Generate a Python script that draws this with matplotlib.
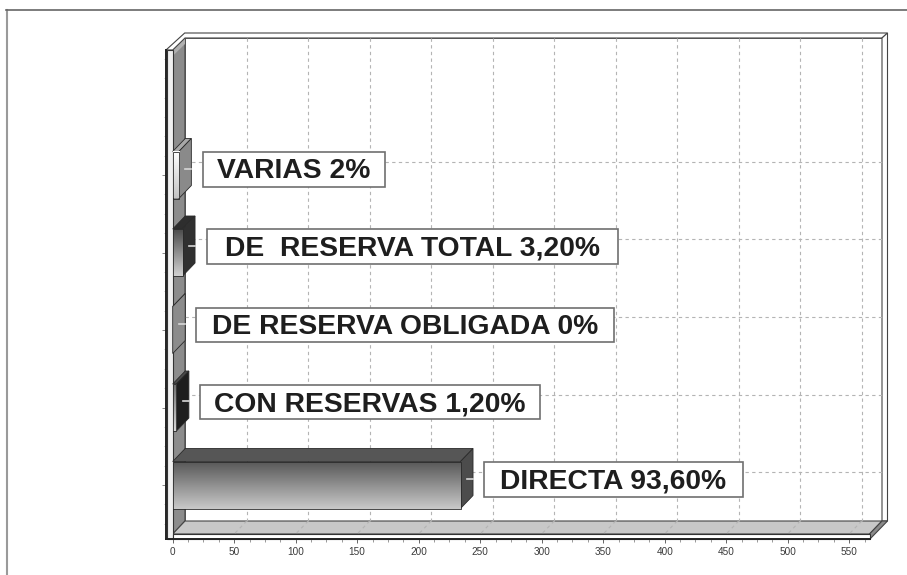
import numpy as np
import matplotlib
matplotlib.use("Agg")
import matplotlib.pyplot as plt
from matplotlib.colors import LinearSegmentedColormap
from matplotlib.patches import Polygon, Rectangle

plt.rcParams['font.family'] = ['Liberation Sans', 'DejaVu Sans']

# values, bottom to top
categories = ["DIRECTA 93,60%", "CON RESERVAS 1,20%", "DE RESERVA OBLIGADA 0%",
              "DE  RESERVA TOTAL 3,20%", "VARIAS 2%"]
values = [234, 3, 0, 8, 5]
xtick_values = list(range(0, 551, 50))

# bar colours: gradient top, gradient bottom, top face, side face
grad_top = ["#5a5a5a", "#6e6e6e", "#e8e8e8", "#4c4c4c", "#ffffff"]
grad_bottom = ["#c8c8c8", "#d8d8d8", "#e8e8e8", "#d0d0d0", "#c4c4c4"]
top_faces = ["#565656", "#4a4a4a", "#8c8c8c", "#2e2e2e", "#a8a8a8"]
side_faces = ["#4c4c4c", "#1e1e1e", "#8c8c8c", "#303030", "#8a8a8a"]

# label boxes in picture pixels: left, right, top, bottom
label_boxes = [(484, 743, 462, 496.5), (200, 540, 385, 419), (196, 614, 308, 342),
               (207, 618, 229, 264), (203, 385, 152, 187)]

W, H = 907, 575
X0, PX_X = 172.7, 1.23      # pixel of x=0, pixels per unit
Y0, PX_Y = 485, 77.5        # pixel of first category, pixels per category
DX, DY = 12.5 / PX_X, 13 / PX_Y
HALF = 23.5 / PX_Y


def ux(p):
    return (p - X0) / PX_X


def uy(p):
    return (Y0 - p) / PX_Y


fig = plt.figure(figsize=(W / 100, H / 100), dpi=100, facecolor="white")

# chart frame drawn in pixels
bg = fig.add_axes([0, 0, 1, 1])
bg.set_xlim(0, W)
bg.set_ylim(H, 0)
bg.axis("off")
bg.plot([6.5, 6.5], [10, H], color="#9a9a9a", lw=1.5)
bg.plot([6, W], [9.5, 9.5], color="#666666", lw=1.2)
edge = dict(edgecolor="#444444", lw=0.8)
bg.add_patch(Polygon([(185, 38), (882, 38), (882, 521), (185, 521)], facecolor="white", edgecolor="#666666", lw=0.7))
bg.add_patch(Polygon([(172.7, 50), (185, 38), (185, 521), (172.7, 534)], facecolor="#8c8c8c", **edge))
bg.add_patch(Polygon([(172.7, 50), (185, 38), (185, 44), (172.7, 56)], facecolor="#b0b0b0", lw=0))
bg.add_patch(Polygon([(166, 50), (184.7, 33), (887.5, 33), (882, 38), (185, 38), (172.7, 50)], facecolor="white", **edge))
bg.add_patch(Polygon([(882, 38), (887.5, 33), (887.5, 521), (882, 521)], facecolor="white", **edge))
bg.add_patch(Polygon([(172.7, 534), (185, 521), (882, 521), (869.5, 534)], facecolor="#c8c8c8", **edge))
bg.add_patch(Polygon([(869.5, 534), (882, 521), (887.5, 521), (870, 539)], facecolor="#8a8a8a", **edge))
bg.add_patch(Rectangle((167, 50), 5.7, 489, facecolor="#f0f0f0", edgecolor="#333333", lw=0.8))
bg.add_patch(Rectangle((172.7, 534), 697, 5, facecolor="white", edgecolor="#333333", lw=0.8))
bg.plot([166, 172.7], [539, 539], color="#222222", lw=1.4)

# data axes
left, right = X0 / W, 870 / W
bottom, top = 1 - 539 / H, 1 - 50 / H
ax = fig.add_axes([left, bottom, right - left, top - bottom])
ax.patch.set_alpha(0)

y_pos = np.arange(len(values))

# grid on the back wall and floor
grid = dict(color="#b4b4b4", lw=0.8, ls=(0, (3, 3)), clip_on=False, zorder=1)
for t in xtick_values[1:]:
    ax.plot([t + DX, t + DX], [uy(38), uy(521)], **grid)
    ax.plot([t + DX, t], [uy(521), uy(534)], **grid)
for y in y_pos:
    ax.plot([ux(185), ux(882)], [y + DY, y + DY], **grid)

# bars
for y, v, c1, c2, tf, sf in zip(y_pos, values, grad_top, grad_bottom, top_faces, side_faces):
    b, t = y - HALF, y + HALF
    ax.add_patch(Polygon([(0, t), (DX, t + DY), (v + DX, t + DY), (v, t)], facecolor=tf,
                         edgecolor="#2a2a2a", lw=0.6, clip_on=False, zorder=3))
    ax.add_patch(Polygon([(v, b), (v + DX, b + DY), (v + DX, t + DY), (v, t)], facecolor=sf,
                         edgecolor="#2a2a2a", lw=0.6, clip_on=False, zorder=3))
    if v > 0:
        cmap = LinearSegmentedColormap.from_list("bar", [c1, c2])
        ax.imshow(np.linspace(0, 1, 64).reshape(-1, 1), cmap=cmap, aspect="auto",
                  extent=(0, v, b, t), origin="upper", zorder=4)
        ax.add_patch(Rectangle((0, b), v, t - b, fill=False, edgecolor="#2a2a2a", lw=0.6, zorder=5))
    # small light tick in the middle of the depth
    ax.plot([v + DX / 2, v + DX], [y + DY / 2, y + DY / 2], color="#d8d8d8", lw=1.2, zorder=6)

ax.set_xlim(0, ux(870))
ax.set_ylim(uy(539), uy(50))

ax.set_xticks(xtick_values)
ax.set_xticks(np.arange(0, 566, 12.5), minor=True)
ax.set_yticks(y_pos)
ax.set_yticks(np.arange(-0.5, 5.6, 0.25), minor=True)
ax.set_yticklabels([])
ax.tick_params(axis="x", which="major", length=3, width=0.7, color="#666666", labelsize=7.2, labelcolor="#3a3a3a", pad=2.5)
ax.tick_params(axis="x", which="minor", length=2, width=0.6, color="#888888")
ax.tick_params(axis="y", which="major", length=3, width=0.7, color="#888888")
ax.tick_params(axis="y", which="minor", length=1.5, width=0.5, color="#aaaaaa")
for s in ["top", "right"]:
    ax.spines[s].set_visible(False)
ax.spines["left"].set_position(("outward", 4.8))
ax.spines["left"].set_linewidth(1.4)
ax.spines["left"].set_color("#222222")
ax.spines["bottom"].set_linewidth(1.4)
ax.spines["bottom"].set_color("#222222")

# label boxes on top
fg = fig.add_axes([0, 0, 1, 1])
fg.set_xlim(0, W)
fg.set_ylim(H, 0)
fg.axis("off")
for name, (l, r, t, b) in zip(categories, label_boxes):
    fg.add_patch(Rectangle((l, t), r - l, b - t, facecolor="white", edgecolor="#707070", lw=1.2))
    fg.text((l + r) / 2, (t + b) / 2 + 2, name, ha="center", va="center", fontsize=20.3,
            fontweight="bold", color="#1e1e1e")

fig.savefig("out.png", dpi=100)
